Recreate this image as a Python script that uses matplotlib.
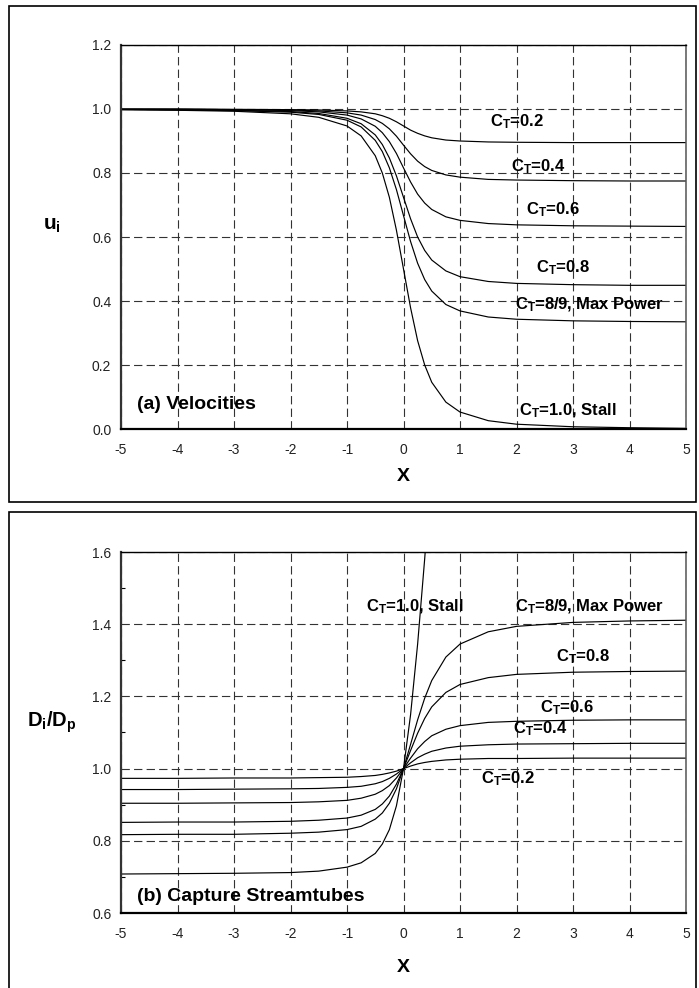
import matplotlib
matplotlib.use("Agg")
import matplotlib.pyplot as plt
from matplotlib.patches import Rectangle
from matplotlib.ticker import MultipleLocator

plt.rcParams["font.family"] = ["Liberation Sans", "DejaVu Sans"]
plt.rcParams["mathtext.default"] = "regular"

# Axial stations (x in rotor diameters)
x = [-5, -4, -3, -2, -1.5, -1, -0.75, -0.5, -0.375, -0.25, -0.125, 0,
     0.125, 0.25, 0.375, 0.5, 0.75, 1, 1.5, 2, 3, 4, 5]

# Velocity ratio u_i along the streamtube
u_ct02 = [1.000, 1.000, 0.999, 0.998, 0.997, 0.994, 0.991, 0.985, 0.979, 0.971, 0.960, 0.947,
          0.934, 0.924, 0.916, 0.910, 0.903, 0.900, 0.897, 0.896, 0.895, 0.895, 0.895]
u_ct04 = [0.999, 0.999, 0.998, 0.997, 0.994, 0.988, 0.981, 0.967, 0.955, 0.938, 0.915, 0.887,
          0.860, 0.837, 0.820, 0.808, 0.794, 0.787, 0.780, 0.778, 0.776, 0.775, 0.775]
u_ct06 = [0.999, 0.999, 0.998, 0.995, 0.991, 0.981, 0.969, 0.946, 0.926, 0.898, 0.861, 0.816,
          0.772, 0.734, 0.706, 0.686, 0.663, 0.652, 0.642, 0.638, 0.635, 0.634, 0.633]
u_ct08 = [0.999, 0.998, 0.996, 0.992, 0.986, 0.971, 0.954, 0.919, 0.889, 0.847, 0.791, 0.724,
          0.657, 0.600, 0.558, 0.528, 0.494, 0.476, 0.461, 0.455, 0.451, 0.449, 0.449]
u_ct89 = [0.998, 0.997, 0.995, 0.990, 0.983, 0.965, 0.944, 0.902, 0.867, 0.816, 0.748, 0.667,
          0.586, 0.518, 0.467, 0.431, 0.389, 0.369, 0.350, 0.343, 0.338, 0.336, 0.335]
u_ct10 = [0.998, 0.996, 0.993, 0.985, 0.974, 0.947, 0.916, 0.854, 0.800, 0.724, 0.621, 0.500,
          0.379, 0.276, 0.200, 0.146, 0.084, 0.053, 0.026, 0.015, 0.007, 0.004, 0.002]

# Capture streamtube diameter ratio D_i/D_p
d_ct02 = [0.973, 0.973, 0.974, 0.974, 0.975, 0.976, 0.978, 0.981, 0.984, 0.988, 0.993, 1.000,
          1.007, 1.013, 1.017, 1.020, 1.024, 1.026, 1.028, 1.028, 1.029, 1.029, 1.029]
d_ct04 = [0.942, 0.942, 0.943, 0.944, 0.945, 0.948, 0.951, 0.958, 0.964, 0.973, 0.985, 1.000,
          1.016, 1.030, 1.040, 1.048, 1.057, 1.062, 1.066, 1.068, 1.069, 1.070, 1.070]
d_ct06 = [0.904, 0.904, 0.905, 0.906, 0.908, 0.912, 0.918, 0.929, 0.939, 0.953, 0.974, 1.000,
          1.029, 1.055, 1.075, 1.091, 1.109, 1.119, 1.128, 1.131, 1.134, 1.135, 1.135]
d_ct08 = [0.851, 0.852, 0.852, 0.854, 0.857, 0.863, 0.871, 0.887, 0.902, 0.924, 0.957, 1.000,
          1.050, 1.098, 1.139, 1.171, 1.211, 1.233, 1.252, 1.261, 1.267, 1.269, 1.270]
d_ct89 = [0.817, 0.818, 0.818, 0.821, 0.824, 0.831, 0.840, 0.860, 0.877, 0.904, 0.944, 1.000,
          1.067, 1.135, 1.195, 1.244, 1.309, 1.345, 1.379, 1.394, 1.405, 1.409, 1.411]
x_ct10_d = [-5, -4, -3, -2, -1.5, -1, -0.75, -0.5, -0.375, -0.25, -0.125, 0,
            0.125, 0.25, 0.375, 0.5]
d_ct10 = [0.708, 0.709, 0.710, 0.712, 0.716, 0.727, 0.739, 0.765, 0.791, 0.831, 0.897, 1.000,
          1.149, 1.345, 1.581, 1.848]

ct_labels = ["C$_T$=0.2", "C$_T$=0.4", "C$_T$=0.6", "C$_T$=0.8",
             "C$_T$=8/9, Max Power", "C$_T$=1.0, Stall"]
ct_pos_top = [(2.01, 0.96), (2.38, 0.82), (2.65, 0.687), (2.83, 0.505), (3.3, 0.387), (2.91, 0.056)]
ct_pos_bot = [(1.85, 0.971), (2.42, 1.11), (2.89, 1.17), (3.18, 1.31), (3.3, 1.448), (0.2, 1.448)]

fig = plt.figure(figsize=(6.99, 9.88), dpi=100)

# panel frames
W, H = 699.0, 988.0
fig.patches.append(Rectangle((9 / W, 1 - 502 / H), 687 / W, 496 / H, transform=fig.transFigure,
                             fill=False, edgecolor="black", linewidth=1.2))
fig.patches.append(Rectangle((9 / W, -0.01), 687 / W, 1 - 512 / H + 0.01, transform=fig.transFigure,
                             fill=False, edgecolor="black", linewidth=1.2))

ax1 = fig.add_axes([121 / W, 1 - 429 / H, 565 / W, 384 / H])
ax2 = fig.add_axes([121 / W, 1 - 913 / H, 565 / W, 361 / H])


def style(ax, xlabelpad):
    ax.set_xlim(-5, 5)
    ax.grid(True, which="major", color="#333333", linewidth=0.8, linestyle=(0, (7.5, 3.8)))
    ax.set_axisbelow(True)
    ax.spines["left"].set_linewidth(1.6)
    ax.spines["left"].set_color("#333333")
    ax.spines["bottom"].set_linewidth(1.6)
    ax.spines["bottom"].set_color("black")
    ax.spines["top"].set_linewidth(1.0)
    ax.spines["top"].set_color("black")
    ax.spines["right"].set_linewidth(1.1)
    ax.spines["right"].set_color("#555555")
    ax.tick_params(axis="x", which="both", length=0, pad=10, labelsize=10, labelcolor="#222222")
    ax.tick_params(axis="y", which="major", direction="in", length=0, pad=7, labelsize=10,
                   labelcolor="#222222")
    ax.tick_params(axis="y", which="minor", direction="in", length=3, width=0.8)
    ax.set_xticks(range(-5, 6))
    ax.set_xticklabels([str(v) for v in range(-5, 6)])
    ax.set_xlabel("X", fontsize=14, fontweight="bold", labelpad=xlabelpad)


# (a) velocities
style(ax1, 8)
for u in (u_ct02, u_ct04, u_ct06, u_ct08, u_ct89, u_ct10):
    ax1.plot(x, u, color="black", linewidth=0.85)
ax1.set_ylim(0, 1.2)
ax1.set_yticks([0.0, 0.2, 0.4, 0.6, 0.8, 1.0, 1.2])
ax1.set_yticklabels(["0.0", "0.2", "0.4", "0.6", "0.8", "1.0", "1.2"])
for lab, (px, py) in zip(ct_labels, ct_pos_top):
    ax1.text(px, py, lab, ha="center", va="center", fontsize=12, fontweight="bold")
ax1.text(-4.72, 0.078, "(a) Velocities", ha="left", va="center", fontsize=14, fontweight="bold")
ax1.text(-0.122, 0.531, "u$_i$", transform=ax1.transAxes, ha="center", va="center",
         fontsize=15, fontweight="bold")

# (b) capture streamtubes
style(ax2, 13)
for d in (d_ct02, d_ct04, d_ct06, d_ct08, d_ct89):
    ax2.plot(x, d, color="black", linewidth=0.85)
ax2.plot(x_ct10_d, d_ct10, color="black", linewidth=0.85)
ax2.set_ylim(0.6, 1.6)
ax2.yaxis.set_minor_locator(MultipleLocator(0.1))
ax2.set_yticks([0.6, 0.8, 1.0, 1.2, 1.4, 1.6])
ax2.set_yticklabels(["0.6", "0.8", "1.0", "1.2", "1.4", "1.6"])
for lab, (px, py) in zip(ct_labels, ct_pos_bot):
    ax2.text(px, py, lab, ha="center", va="center", fontsize=12, fontweight="bold")
ax2.text(-4.72, 0.647, "(b) Capture Streamtubes", ha="left", va="center", fontsize=14,
         fontweight="bold")
ax2.text(-0.122, 0.529, "D$_i$/D$_p$", transform=ax2.transAxes, ha="center", va="center",
         fontsize=14.5, fontweight="bold")

fig.savefig("out.png", dpi=100)
